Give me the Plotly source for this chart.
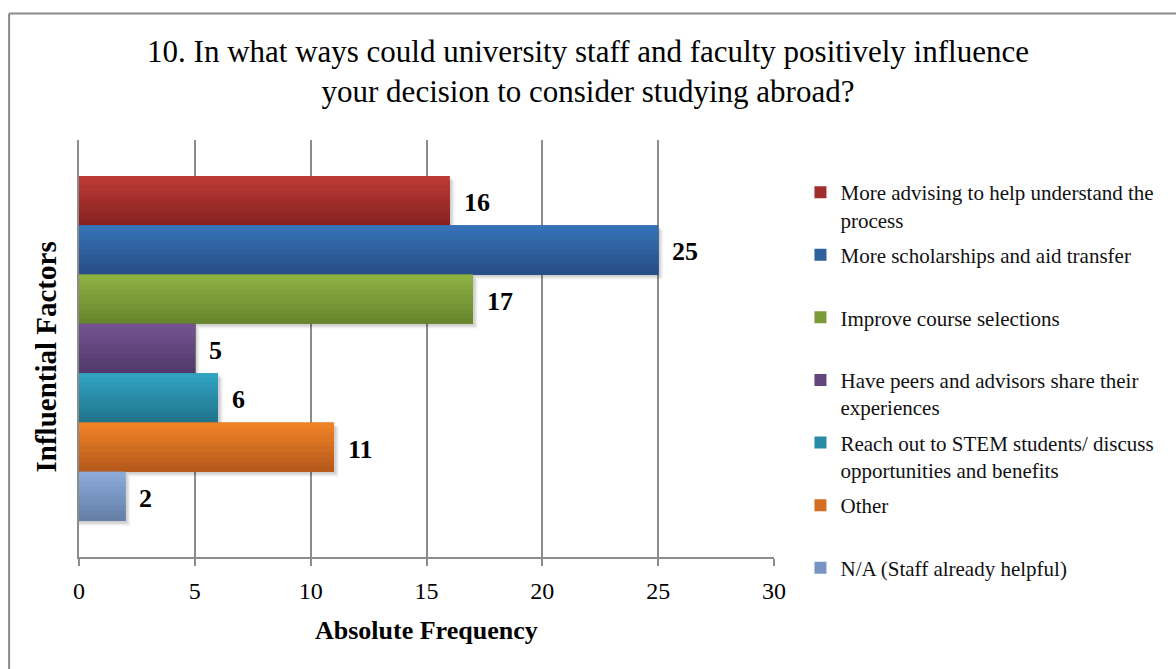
import plotly.graph_objects as go

# Survey responses: how staff and faculty could encourage studying abroad
factors = [
    "More advising to help understand the<br>process",
    "More scholarships and aid transfer",
    "Improve course selections",
    "Have peers and advisors share their<br>experiences",
    "Reach out to STEM students/ discuss<br>opportunities and benefits",
    "Other",
    "N/A (Staff already helpful)",
]
counts = [16, 25, 17, 5, 6, 11, 2]

# top / bottom shades of each bar's vertical gradient
shade_top = ["#BB3A36", "#3672B7", "#8DB043", "#745291", "#30A3C3", "#F08226", "#8BA9D9"]
shade_bottom = ["#872221", "#274E86", "#67862E", "#523A6B", "#21758D", "#B65A1B", "#6580A9"]

title_text = ("10. In what ways could university staff and faculty positively influence"
              "<br>your decision to consider studying abroad?")
x_title = "Absolute Frequency"
y_title = "Influential Factors"
x_ticks = [0, 5, 10, 15, 20, 25, 30]

W, H = 1176, 669
ML, MR, MT, MB = 78.5, 401.5, 140, 112
PW, PH = W - ML - MR, H - MT - MB
SERIF = "Liberation Serif, Times New Roman, serif"
GRID = "#8C8C8C"
N_SLICES = 10
PAD = 0.73  # empty space above and below the bar block, in bar widths
X_MAX = 30
BAR_PX = PH / (len(counts) + 2 * PAD)   # pixel thickness of one bar
UNIT_PX = PW / X_MAX                     # pixels per count
# soft drop shadow: (right shift px, down shift px, opacity)
SHADOW_LAYERS = [(5, 5, 0.035), (4, 4, 0.045), (3, 3, 0.055), (2, 2, 0.06)]


def hex_rgb(h):
    h = h.lstrip("#")
    return [int(h[i:i + 2], 16) for i in (0, 2, 4)]


def mix(c0, c1, t):
    a, b = hex_rgb(c0), hex_rgb(c1)
    return "rgb({},{},{})".format(*[round(a[i] + (b[i] - a[i]) * t) for i in range(3)])


def px_x(p):
    return (p - ML) / PW


def px_y(p):
    return (H - MB - p) / PH


fig = go.Figure()

# shadows go underneath every bar
for i, v in enumerate(counts):
    for dx, dy, a in SHADOW_LAYERS:
        fig.add_trace(go.Bar(
            y=[i], x=[v + dx / UNIT_PX], orientation="h",
            offset=-0.5 + dy / BAR_PX, width=1,
            marker=dict(color=f"rgba(0,0,0,{a})", line=dict(width=0)),
            showlegend=False, hoverinfo="skip",
        ))

last = len(factors) - 1
for i, (name, v) in enumerate(zip(factors, counts)):
    lines = name.count("<br>") + 1
    # keep every legend entry two lines tall so the rows are evenly spaced
    legend_name = name if (lines > 1 or i == last) else name + "<br> "
    # legend entry / base fill
    fig.add_trace(go.Bar(
        y=[i], x=[v], orientation="h", width=1, name=legend_name,
        marker=dict(color=mix(shade_top[i], shade_bottom[i], 0.5), line=dict(width=0)),
        legendgroup=f"g{i}", showlegend=True, hoverinfo="skip",
    ))
    # gradient: overlapping slices from the top edge down
    for k in range(N_SLICES):
        fig.add_trace(go.Bar(
            y=[i], x=[v], orientation="h",
            offset=-0.5 + k / N_SLICES, width=1 - k / N_SLICES,
            marker=dict(color=mix(shade_top[i], shade_bottom[i], k / (N_SLICES - 1)),
                        line=dict(width=0)),
            legendgroup=f"g{i}", showlegend=False, hoverinfo="skip",
        ))

annotations = []
for i, v in enumerate(counts):
    annotations.append(dict(
        x=v, y=i, xref="x", yref="y", text=f"<b>{v}</b>", showarrow=False,
        xanchor="left", yanchor="middle", xshift=12, yshift=-2,
        font=dict(family=SERIF, size=26, color="#000000"),
    ))

annotations.append(dict(
    x=0, y=px_y(357.5), xref="paper", yref="paper", text=f"<b>{y_title}</b>",
    textangle=-90, showarrow=False, xanchor="center", yanchor="middle", xshift=-34,
    font=dict(family=SERIF, size=29, color="#000000"),
))
annotations.append(dict(
    x=0.5, y=0, xref="paper", yref="paper", text=f"<b>{x_title}</b>",
    showarrow=False, xanchor="center", yanchor="middle", yshift=-73,
    font=dict(family=SERIF, size=26, color="#000000"),
))

shapes = [
    dict(type="line", xref="paper", yref="paper", x0=px_x(8.5), x1=px_x(W + 5),
         y0=px_y(13.5), y1=px_y(13.5), line=dict(color="#8A8A8A", width=2)),
    dict(type="line", xref="paper", yref="paper", x0=px_x(8.5), x1=px_x(8.5),
         y0=px_y(13.5), y1=px_y(H + 5), line=dict(color="#8A8A8A", width=2)),
]

n = len(counts)
fig.update_layout(
    width=W, height=H,
    margin=dict(l=ML, r=MR, t=MT, b=MB, autoexpand=False),
    paper_bgcolor="white", plot_bgcolor="white",
    barmode="overlay",
    title=dict(text=title_text, x=0.5, xref="container", xanchor="center",
               y=1 - 62 / H, yref="container", yanchor="top",
               font=dict(family=SERIF, size=31, color="#000000")),
    xaxis=dict(range=[0, X_MAX], tickvals=x_ticks, showgrid=True, gridcolor=GRID, gridwidth=1.5,
               showline=True, linecolor=GRID, linewidth=1.5, ticks="outside", ticklen=7,
               tickcolor=GRID, tickwidth=1.5, ticklabelstandoff=4, zeroline=False,
               tickfont=dict(family=SERIF, size=24, color="#000000"), fixedrange=True),
    yaxis=dict(range=[n - 0.5 + PAD, -0.5 - PAD], showticklabels=False, showgrid=False,
               zeroline=False, showline=True, linecolor=GRID, linewidth=1.5,
               ticks="", fixedrange=True),
    legend=dict(x=px_x(801), xanchor="left", y=px_y(172), yanchor="top",
                valign="top", traceorder="grouped", tracegroupgap=5,
                maxheight=660,
                font=dict(family=SERIF, size=21, color="#111111"),
                itemwidth=30, bgcolor="rgba(0,0,0,0)"),
    annotations=annotations,
    shapes=shapes,
    showlegend=True,
)

fig.write_html("out.html")
